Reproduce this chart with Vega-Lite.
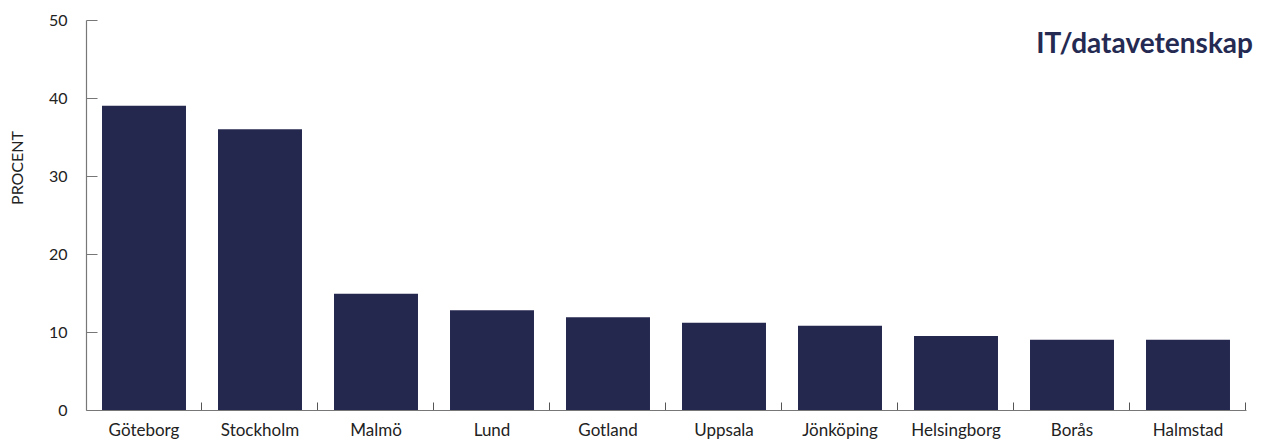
{
  "$schema": "https://vega.github.io/schema/vega-lite/v6.json",
  "width": 1160,
  "height": 390,
  "autosize": {"type": "none"},
  "padding": {"left": 86, "top": 20, "right": 18, "bottom": 35},
  "background": "white",
  "data": {
    "values": [
      {"ort": "Göteborg", "procent": 39.0},
      {"ort": "Stockholm", "procent": 36.0},
      {"ort": "Malmö", "procent": 14.9},
      {"ort": "Lund", "procent": 12.8},
      {"ort": "Gotland", "procent": 11.9},
      {"ort": "Uppsala", "procent": 11.2},
      {"ort": "Jönköping", "procent": 10.8},
      {"ort": "Helsingborg", "procent": 9.5},
      {"ort": "Borås", "procent": 9.0},
      {"ort": "Halmstad", "procent": 9.0}
    ]
  },
  "config": {
    "view": {"stroke": null},
    "font": "Lato"
  },
  "layer": [
    {
      "mark": {"type": "bar", "color": "#24274e"},
      "encoding": {
        "x": {
          "field": "ort",
          "type": "nominal",
          "sort": null,
          "scale": {"paddingInner": 0.276, "paddingOuter": 0.138},
          "axis": {
            "title": null,
            "labelAngle": 0,
            "labelFont": "Lato",
            "labelFontSize": 17,
            "labelColor": "#222222",
            "labelPadding": 20,
            "bandPosition": 1.1905,
            "tickExtra": false,
            "tickSize": -8,
            "tickColor": "#555555",
            "domainColor": "#777777",
            "domainWidth": 1.2,
            "grid": false
          }
        },
        "y": {
          "field": "procent",
          "type": "quantitative",
          "scale": {"domain": [0, 50], "nice": false},
          "axis": {
            "title": "PROCENT",
            "titleFont": "Lato",
            "titleFontSize": 16,
            "titleFontWeight": "normal",
            "titleColor": "#222222",
            "titleAngle": -90,
            "titleAlign": "center",
            "titleBaseline": "middle",
            "titleX": -68.5,
            "titleY": 147.5,
            "values": [0, 10, 20, 30, 40, 50],
            "labelFont": "Lato",
            "labelFontSize": 16,
            "labelColor": "#222222",
            "labelPadding": 30,
            "tickSize": -11,
            "tickColor": "#777777",
            "domainColor": "#777777",
            "domainWidth": 1.2,
            "grid": false
          }
        }
      }
    },
    {
      "data": {"values": [{"rubrik": "IT/datavetenskap"}]},
      "mark": {
        "type": "text",
        "align": "right",
        "baseline": "alphabetic",
        "dx": 23,
        "font": "Lato",
        "fontSize": 28,
        "fontWeight": "bold",
        "color": "#252a52"
      },
      "encoding": {
        "text": {"field": "rubrik", "type": "nominal"},
        "x": {"datum": "Halmstad", "type": "nominal", "bandPosition": 1},
        "y": {"datum": 45.77, "type": "quantitative"}
      }
    }
  ]
}
